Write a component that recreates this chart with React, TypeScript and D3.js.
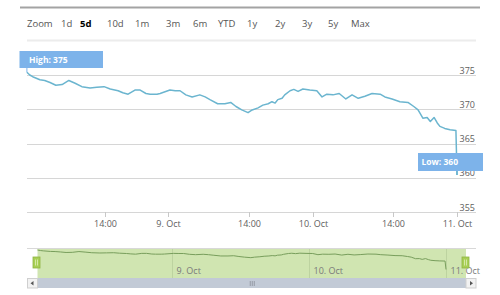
import React from "react";
import * as d3 from "d3";

const times: string[] = [
  "2013-10-08 00:30","2013-10-08 01:00","2013-10-08 01:30","2013-10-08 02:45","2013-10-08 03:35",
  "2013-10-08 04:30","2013-10-08 05:30","2013-10-08 06:35","2013-10-08 07:45","2013-10-08 08:50",
  "2013-10-08 10:00","2013-10-08 11:25","2013-10-08 12:35","2013-10-08 13:50","2013-10-08 14:50",
  "2013-10-08 16:05","2013-10-08 16:50","2013-10-08 17:40","2013-10-08 18:45","2013-10-08 19:35",
  "2013-10-08 20:30","2013-10-08 21:10","2013-10-08 22:15","2013-10-08 22:45","2013-10-09 00:20",
  "2013-10-09 01:15","2013-10-09 02:05","2013-10-09 03:05","2013-10-09 04:10","2013-10-09 05:30",
  "2013-10-09 06:25","2013-10-09 07:15","2013-10-09 08:35","2013-10-09 09:50","2013-10-09 10:50",
  "2013-10-09 11:45","2013-10-09 12:45","2013-10-09 13:50","2013-10-09 14:30","2013-10-09 15:25",
  "2013-10-09 16:10","2013-10-09 17:00","2013-10-09 17:35","2013-10-09 18:05","2013-10-09 18:30",
  "2013-10-09 19:10","2013-10-09 19:35","2013-10-09 20:25","2013-10-09 21:00","2013-10-09 21:40",
  "2013-10-09 22:25","2013-10-09 23:30","2013-10-10 00:40","2013-10-10 01:35","2013-10-10 02:25",
  "2013-10-10 03:30","2013-10-10 04:35","2013-10-10 05:45","2013-10-10 06:50","2013-10-10 07:55",
  "2013-10-10 09:05","2013-10-10 10:20","2013-10-10 11:45","2013-10-10 12:35","2013-10-10 13:50",
  "2013-10-10 15:05","2013-10-10 16:20","2013-10-10 17:15","2013-10-10 17:55","2013-10-10 18:40",
  "2013-10-10 19:20","2013-10-10 19:50","2013-10-10 20:25","2013-10-10 20:55","2013-10-10 21:20",
  "2013-10-10 22:05","2013-10-10 22:55","2013-10-10 23:50","2013-10-11 00:00",
];

const prices: number[] = [
  375.4, 375.0, 374.75, 374.3, 374.2,
  373.9, 373.5, 373.6, 374.2, 373.8,
  373.3, 373.1, 373.2, 373.3, 372.95,
  372.7, 372.4, 372.2, 372.8, 372.8,
  372.3, 372.2, 372.2, 372.3, 372.8,
  372.7, 372.7, 372.1, 371.8, 372.1,
  371.8, 371.4, 370.8, 370.8, 371.0,
  370.4, 369.9, 369.5, 369.9, 370.2,
  370.6, 370.8, 371.1, 370.9, 371.4,
  371.6, 372.1, 372.7, 372.9, 372.6,
  372.95, 372.8, 372.7, 371.8, 372.2,
  372.1, 372.3, 371.5, 372.1, 371.6,
  371.9, 372.3, 372.2, 371.8, 371.5,
  371.1, 371.0, 370.4, 369.9, 368.7,
  368.8, 368.2, 368.8, 368.0, 367.5,
  367.2, 367.0, 366.9, 360.4,
];

const rangeButtons: string[] = ["1d", "5d", "10d", "1m", "3m", "6m", "YTD", "1y", "2y", "3y", "5y", "Max"];
const selectedButton = "5d";
const yTicks: number[] = [355, 360, 365, 370, 375];
const xTickTimes: string[] = [
  "2013-10-08 14:00", "2013-10-09 00:00", "2013-10-09 14:00",
  "2013-10-10 00:00", "2013-10-10 14:00", "2013-10-11 00:00",
];
const navTickTimes: string[] = ["2013-10-09 00:00", "2013-10-10 00:00", "2013-10-11 00:00"];
const highLabel = "High: 375";
const lowLabel = "Low: 360";

const parse = d3.timeParse("%Y-%m-%d %H:%M");
const FONT = "'Open Sans', 'DejaVu Sans', sans-serif";

export default function App() {
  const data = times.map((t, i) => ({ t: parse(t) as Date, v: prices[i] }));

  // main (ordinal-like, piecewise) time axis
  const x = d3
    .scaleTime()
    .domain([
      parse("2013-10-08 00:00") as Date,
      parse("2013-10-08 14:00") as Date,
      parse("2013-10-09 00:00") as Date,
      parse("2013-10-09 14:00") as Date,
      parse("2013-10-10 00:00") as Date,
      parse("2013-10-10 14:00") as Date,
      parse("2013-10-11 00:00") as Date,
    ])
    .range([24, 105, 168, 249, 313, 393, 457]);
  const y = d3.scaleLinear().domain([355, 375]).range([212, 75]);

  const plotLeft = 27;
  const plotRight = 476;

  const line = d3
    .line<{ t: Date; v: number }>()
    .x((d) => x(d.t))
    .y((d) => y(d.v));

  // navigator
  const navX = d3
    .scaleTime()
    .domain([parse("2013-10-08 00:30") as Date, parse("2013-10-11 03:30") as Date])
    .range([37.5, 466]);
  const navY = d3
    .scaleLinear()
    .domain([d3.min(prices) as number, d3.max(prices) as number])
    .range([269.5, 250]);
  const navLine = d3
    .line<{ t: Date; v: number }>()
    .x((d) => navX(d.t))
    .y((d) => navY(d.v));

  const navTop = 248;
  const navBottom = 278;
  const sbBottom = 288;
  const selL = navX(navX.domain()[0]);
  const selR = navX(navX.domain()[1]);

  const timeFmt = (d: Date) =>
    d.getHours() === 0 && d.getMinutes() === 0 ? d3.timeFormat("%-d. %b")(d) : d3.timeFormat("%H:%M")(d);

  const btnX = [61, 80, 107, 135, 166, 193, 218, 247, 275, 302, 328, 351];

  const hi = data.reduce((a, b) => (b.v > a.v ? b : a));
  const lo = data.reduce((a, b) => (b.v < a.v ? b : a));

  const handle = (cx: number) => (
    <g>
      <rect x={cx - 3.5} y={257} width={7} height={11} fill="#a8cf55" stroke="#8fb543" strokeWidth={0.8} />
      <line x1={cx - 1} x2={cx - 1} y1={259.5} y2={265.5} stroke="#e6f2c8" strokeWidth={0.7} />
      <line x1={cx + 1} x2={cx + 1} y1={259.5} y2={265.5} stroke="#e6f2c8" strokeWidth={0.7} />
    </g>
  );

  return (
    <svg
      width={500}
      height={295}
      style={{ position: "absolute", left: 0, top: 0, background: "#fff" }}
      fontFamily={FONT}
    >
      {/* top border */}
      <line x1={20} x2={480} y1={7.5} y2={7.5} stroke="#a3a3a3" strokeWidth={2} />
      {/* range selector */}
      <text x={27} y={27} fontSize={9.5} fill="#555">Zoom</text>
      {rangeButtons.map((b, i) => (
        <text
          key={b}
          x={btnX[i]}
          y={27}
          fontSize={9.5}
          fill={b === selectedButton ? "#000" : "#555"}
          fontWeight={b === selectedButton ? "bold" : "normal"}
        >
          {b}
        </text>
      ))}
      <line x1={27} x2={476} y1={40.5} y2={40.5} stroke="#ececec" strokeWidth={2} />

      {/* grid */}
      {yTicks.map((t) => (
        <line key={t} x1={plotLeft} x2={plotRight} y1={Math.round(y(t)) + 0.5} y2={Math.round(y(t)) + 0.5} stroke="#d6d6d6" strokeWidth={1} />
      ))}
      {/* x ticks */}
      {xTickTimes.map((s) => {
        const d = parse(s) as Date;
        const px = Math.round(x(d)) + 0.5;
        return (
          <g key={s}>
            <line x1={px} x2={px} y1={212} y2={217} stroke="#c8c8c8" />
            <text x={px} y={227} fontSize={9} fill="#606060" textAnchor="middle">
              {timeFmt(d)}
            </text>
          </g>
        );
      })}

      {/* y labels */}
      {yTicks.map((t) => (
        <text key={t} x={475} y={y(t) - 1.5} fontSize={9} fill="#606060" textAnchor="end">
          {t}
        </text>
      ))}

      {/* series */}
      <path d={line(data) as string} fill="none" stroke="#6bb5cf" strokeWidth={1.5} strokeLinejoin="round" />

      {/* high flag */}
      <line x1={x(hi.t)} x2={x(hi.t)} y1={68} y2={y(hi.v)} stroke="#7db3ea" strokeWidth={1} />
      <rect x={19.5} y={51} width={83.5} height={17} fill="#7db3ea" />
      <text x={29} y={62.5} fontSize={8.5} fontWeight="bold" fill="#fff">
        {highLabel}
      </text>

      {/* low flag */}
      <rect x={418} y={153} width={65} height={18} fill="#7db3ea" />
      <text x={421.5} y={165} fontSize={8.5} fontWeight="bold" fill="#fff">
        {lowLabel}
      </text>
      <line x1={x(lo.t)} x2={x(lo.t)} y1={171} y2={y(lo.v)} stroke="#6bb5cf" strokeWidth={1.5} />

      {/* navigator */}
      <rect x={selL} y={navTop} width={selR - selL} height={navBottom - navTop} fill="#d0e5b1" />
      {navTickTimes.map((s) => {
        const d = parse(s) as Date;
        const px = Math.round(navX(d)) + 0.5;
        return (
          <g key={s}>
            <line x1={px} x2={px} y1={navTop} y2={navBottom} stroke="#bdd3a0" strokeWidth={1} />
            <text x={px + 4} y={274} fontSize={9} fill="#7a7a7a">
              {d3.timeFormat("%-d. %b")(d)}
            </text>
          </g>
        );
      })}
      <path d={navLine(data) as string} fill="none" stroke="#789e5c" strokeWidth={1} />
      <line x1={plotLeft} x2={plotRight} y1={navTop + 0.5} y2={navTop + 0.5} stroke="#d8d8d8" />
      {handle(selL - 1)}
      {handle(selR - 0.5)}

      {/* scrollbar */}
      <rect x={selL} y={navBottom} width={selR - selL} height={sbBottom - navBottom} fill="#c2cad6" />
      <rect x={27.5} y={navBottom + 0.5} width={10} height={9.5} fill="#f2f2f2" stroke="#cfcfcf" />
      <path d="M33.5,281 L30.5,283.3 L33.5,285.6 Z" fill="#555" />
      <rect x={selR} y={navBottom + 0.5} width={10} height={9.5} fill="#f2f2f2" stroke="#cfcfcf" />
      <path d={`M${selR + 4},281 L${selR + 7},283.3 L${selR + 4},285.6 Z`} fill="#555" />
      {[-2, 0, 2].map((o) => (
        <line key={o} x1={(selL + selR) / 2 + o + 0.5} x2={(selL + selR) / 2 + o + 0.5} y1={281} y2={286} stroke="#8a8f99" strokeWidth={0.8} />
      ))}
    </svg>
  );
}
